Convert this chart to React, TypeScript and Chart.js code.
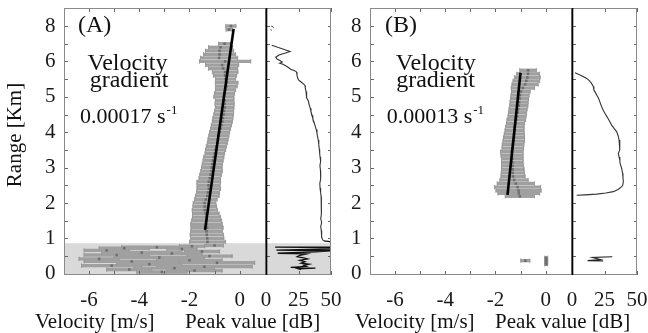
import { useEffect, useRef } from "react";
import { Chart, registerables } from "chart.js";

Chart.register(...registerables);

const FONT = "'Liberation Serif', 'Times New Roman', serif";
const W = 648;
const H = 333;

// axes
const Y_MIN = -0.035;
const Y_MAX = 7.51;
const VEL_MIN = -7;
const VEL_MAX = 1.05;
const DB_MIN = 0;
const DB_MAX = 50;

const yTickValues = [0, 1, 2, 3, 4, 5, 6, 7];
const yTickLabels = ["0", "1", "2", "3", "4", "5", "6", "8"];
const yMinorTicks = [0, 0.5, 1, 1.5, 2, 2.5, 3, 3.5, 4, 4.5, 5, 5.5, 6, 6.5, 7];
const velTickValues = [-6, -4, -2, 0];
const velMinorTicks = [-6, -5, -4, -3, -2, -1, 0];
const dbTickValues = [0, 25, 50];

// ---------- Panel A ----------
const rangeA = [
  0.05, 0.09, 0.12, 0.16, 0.2, 0.23, 0.27, 0.31, 0.35, 0.38, 0.42, 0.46, 0.5, 0.53, 0.57, 0.6, 0.63, 0.66,
  0.7, 0.72, 0.75, 0.78, 0.8,
  0.9, 1.0, 1.1, 1.2, 1.3, 1.4, 1.5, 1.6, 1.7, 1.8, 1.9, 2.0, 2.1, 2.2, 2.3, 2.4, 2.5, 2.6, 2.7, 2.8, 2.9,
  3.0, 3.1, 3.2, 3.3, 3.4, 3.5, 3.6, 3.7, 3.8, 3.9, 4.0, 4.1, 4.2, 4.3, 4.4, 4.5, 4.6, 4.7, 4.8, 4.9,
  5.0, 5.1, 5.2, 5.3, 5.4, 5.5, 5.6, 5.7, 5.8, 5.9, 6.0, 6.1, 6.2, 6.3, 6.4, 6.5, 6.9, 7.0,
];
const velA = [
  -3.1, -1.8, -4.4, -2.6, -1.4, -5.1, -3.6, -0.9, -4.3, -2.0, -5.6, -3.2, -1.2, -4.9, -2.7, -3.9, -1.5, -5.3,
  -2.3, -4.6, -3.3, -1.9, -1.0,
  -1.28, -1.29, -1.31, -1.32, -1.3, -1.32, -1.32, -1.32, -1.35, -1.39, -1.39, -1.4, -1.35, -1.29, -1.26,
  -1.23, -1.24, -1.23, -1.19, -1.16, -1.12,
  -1.11, -1.09, -1.06, -1.03, -0.99, -0.96, -0.93, -0.89, -0.86, -0.83, -0.8, -0.76, -0.73, -0.69, -0.67,
  -0.64, -0.62, -0.6, -0.6, -0.6,
  -0.63, -0.6, -0.56, -0.53, -0.52, -0.56, -0.58, -0.58, -0.66, -0.7, -0.58, -0.82, -0.8, -0.8, -0.76,
  -0.6, -0.42, -0.35,
];
const errA = [
  1.0, 1.1, 0.9, 1.6, 1.9, 1.2, 1.3, 1.5, 1.9, 1.3, 0.8, 1.8, 0.9, 1.3, 1.2, 1.6, 0.7, 0.9,
  0.6, 1.0, 1.4, 0.5, 0.35,
  0.72, 0.66, 0.66, 0.63, 0.64, 0.63, 0.6, 0.56, 0.53, 0.5, 0.47, 0.45, 0.45, 0.47, 0.46,
  0.47, 0.46, 0.47, 0.43, 0.43, 0.43,
  0.41, 0.4, 0.4, 0.4, 0.39, 0.4, 0.4, 0.4, 0.4, 0.4, 0.4, 0.4, 0.4, 0.4, 0.4,
  0.39, 0.38, 0.37, 0.38, 0.37,
  0.4, 0.4, 0.4, 0.43, 0.45, 0.4, 0.46, 0.51, 0.58, 0.66, 1.02, 0.74, 0.64, 0.56, 0.48,
  0.24, 0.12, 0.2,
];
const fitVelA = [-1.38, -0.24];
const fitRangeA = [1.24, 6.92];
const shadeTopA = 0.86;

const peakRangeA = [
  6.46, 6.4, 6.34, 6.28, 6.24, 6.18, 6.12, 6.07, 6.02, 5.98, 5.95, 5.92, 5.87, 5.82, 5.78, 5.74, 5.7,
  5.62, 5.55, 5.48, 5.42, 5.36, 5.32, 5.25, 5.15, 5.05, 4.97, 4.88, 4.78, 4.68, 4.58, 4.48, 4.38, 4.28,
  4.18, 4.08, 3.98, 3.88, 3.78, 3.65, 3.52, 3.4, 3.3, 3.18, 3.05, 2.92, 2.8, 2.68, 2.55, 2.42, 2.3,
  2.18, 2.05, 1.92, 1.8, 1.68, 1.56, 1.45, 1.33, 1.22, 1.12, 1.03, 0.96, 0.93,
];
const peakDbA = [
  4.4, 9, 14, 18.5, 15, 10, 7.5, 8.5, 11, 12.5, 10.5, 13, 15.5, 17.5, 19, 22, 23.5,
  23.8, 24.2, 25, 27, 29, 30, 30.2, 30.8, 31, 31.5, 32.6, 33.2, 34, 34.6, 35.4, 36, 37,
  37.8, 38.6, 39.2, 39.6, 40.2, 40.6, 41, 41.3, 41.6, 42, 41.5, 41.9, 42.3, 41.8, 41.4, 41.6, 42,
  42.4, 42.6, 42.4, 42.9, 42.5, 42.1, 42.8, 42.1, 42.5, 42.9, 42.7, 43.6, 44.5,
];
const peakLowRangeA = [
  0.93, 0.91, 0.88, 0.8, 0.76, 0.75, 0.74, 0.7, 0.67, 0.65, 0.62, 0.58, 0.56, 0.52, 0.48, 0.45, 0.42,
  0.38, 0.34, 0.3, 0.27, 0.24, 0.21, 0.18, 0.16, 0.14, 0.12,
];
const peakLowDbA = [
  44.5, 49, 50, 50, 50, 7, 50, 50, 8, 50, 38, 9, 31, 26, 24, 29, 32,
  26, 30, 27, 33, 29, 31, 19, 38, 25, 27,
];
const peakDashRangeA = [7.0, 6.96, NaN, 6.9, 6.88];
const peakDashDbA = [4, 6, NaN, 3.5, 4.5];

// ---------- Panel B ----------
const rangeB = [
  0.27, 0.33, 0.37, 0.39, 0.45,
  2.19, 2.27, 2.35, 2.45, 2.55, 2.65, 2.75, 2.85, 2.95, 3.05, 3.15, 3.25, 3.35, 3.45, 3.55, 3.65, 3.75,
  3.85, 3.95, 4.05, 4.15, 4.25, 4.35, 4.45, 4.55, 4.65, 4.75, 4.85, 4.95, 5.05, 5.15, 5.25, 5.35, 5.45,
  5.55, 5.65, 5.75,
];
const velB = [
  0.02, 0.02, -0.81, 0.02, 0.02,
  -1.03, -1.07, -1.08, -1.12, -1.19, -1.26, -1.3, -1.31, -1.31, -1.32, -1.33, -1.33, -1.34, -1.35, -1.31,
  -1.3, -1.27, -1.26, -1.25, -1.24, -1.23, -1.2, -1.17, -1.14, -1.12, -1.1, -1.07, -1.06, -1.04, -1.02,
  -0.99, -0.91, -0.82, -0.77, -0.73, -0.7, -0.7,
];
const errB = [
  0.06, 0.06, 0.18, 0.06, 0.06,
  0.58, 0.83, 0.9, 0.92, 0.74, 0.56, 0.48, 0.46, 0.45, 0.44, 0.43, 0.43, 0.44, 0.45, 0.43,
  0.43, 0.43, 0.42, 0.4, 0.38, 0.37, 0.36, 0.37, 0.36, 0.36, 0.36, 0.36, 0.36, 0.36, 0.36,
  0.37, 0.46, 0.52, 0.53, 0.51, 0.45, 0.33,
];
const fitVelB = [-1.52, -1.0];
const fitRangeB = [2.23, 5.68];

const peakRangeB = [
  5.68, 5.6, 5.52, 5.45, 5.38, 5.29, 5.2, 5.14, 5.05, 4.95, 4.85, 4.72, 4.62, 4.53, 4.42, 4.3, 4.2,
  4.1, 4.01, 3.9, 3.78, 3.65, 3.5, 3.4, 3.3, 3.2, 3.12, 2.98, 2.84, 2.72, 2.6, 2.5, 2.46, 2.38, 2.32,
  2.28, 2.25, 2.23, 2.22,
];
const peakDbB = [
  2.3, 7, 11.3, 13.5, 15, 16.4, 16.8, 17.7, 19, 20.5, 21.5, 22.8, 24, 25.4, 27.2, 29, 30.5,
  32.5, 34.4, 35.5, 36.2, 36.6, 36.9, 35.6, 36.2, 36.8, 37, 38.2, 38.9, 39.2, 39.5, 39, 38.2, 35.5, 31.8,
  26, 19, 10, 3.6,
];
const peakLowRangeB = [0.48, 0.46, 0.4, 0.37, 0.36];
const peakLowDbB = [31, 16, 22, 12, 24];

// ---------- helpers ----------
const tickFont = { family: FONT, size: 21 };

function pts(xs: number[], ys: number[]) {
  return xs.map((x, i) => ({ x: Number.isNaN(x) ? null : x, y: Number.isNaN(ys[i]) ? null : ys[i] }));
}

type Txt = { t: string; x: number; y: number; size: number; align?: CanvasTextAlign; sup?: string; rot?: boolean };

function framePlugin(kind: "vel" | "peak", texts: Txt[]) {
  return {
    id: "frame_" + kind,
    afterDraw(chart: any) {
      const { ctx, scales } = chart;
      const xs = scales.x;
      const ys = scales.y;
      const L = xs.left;
      const R = xs.right;
      const T = ys.top;
      const B = ys.bottom;
      ctx.save();
      ctx.lineWidth = 1;
      ctx.strokeStyle = "#666";
      ctx.beginPath();
      const xt = kind === "vel" ? velMinorTicks : dbTickValues;
      xt.forEach((v: number) => {
        const px = Math.round(xs.getPixelForValue(v)) + 0.5;
        ctx.moveTo(px, B);
        ctx.lineTo(px, B - 4);
        ctx.moveTo(px, T);
        ctx.lineTo(px, T + 4);
      });
      yMinorTicks.forEach((v) => {
        const py = Math.round(ys.getPixelForValue(v)) + 0.5;
        ctx.moveTo(L, py);
        ctx.lineTo(L + 4, py);
        if (kind === "peak") {
          ctx.moveTo(R, py);
          ctx.lineTo(R - 3, py);
        }
      });
      ctx.stroke();
      ctx.strokeStyle = "#8a8a8a";
      ctx.strokeRect(Math.round(L) + 0.5, Math.round(T) + 0.5, Math.round(R - L) - 1, Math.round(B - T) - 1);
      if (kind === "peak") {
        ctx.strokeStyle = "#000";
        ctx.lineWidth = 1.6;
        ctx.beginPath();
        ctx.moveTo(Math.round(L) + 0.5, T);
        ctx.lineTo(Math.round(L) + 0.5, B);
        ctx.stroke();
      }

      ctx.fillStyle = "#111";
      texts.forEach((tx) => {
        ctx.font = `${tx.size}px ${FONT}`;
        if (tx.rot) {
          ctx.save();
          ctx.translate(tx.x, tx.y);
          ctx.rotate(-Math.PI / 2);
          ctx.textAlign = "center";
          ctx.textBaseline = "middle";
          ctx.fillText(tx.t, 0, 0);
          ctx.restore();
          return;
        }
        ctx.textAlign = tx.align || "left";
        ctx.textBaseline = "alphabetic";
        ctx.fillText(tx.t, tx.x, tx.y);
        if (tx.sup) {
          const w = ctx.measureText(tx.t).width;
          ctx.font = `13px ${FONT}`;
          ctx.textAlign = "left";
          ctx.fillText(tx.sup, tx.x + w + 1, tx.y - 9);
        }
      });
      ctx.restore();
    },
  };
}

function yScale(showLabels: boolean, width: number, pad: number) {
  return {
    type: "linear",
    min: Y_MIN,
    max: Y_MAX,
    offset: false,
    display: true,
    grid: { display: false, drawTicks: false },
    border: { display: false },
    afterBuildTicks: (s: any) => {
      s.ticks = yTickValues.map((v) => ({ value: v }));
    },
    afterFit: (s: any) => {
      s.width = width;
      s.paddingTop = 0;
      s.paddingBottom = 0;
    },
    ticks: {
      display: showLabels,
      autoSkip: false,
      font: tickFont,
      color: "#1a1a1a",
      padding: pad,
      callback: (v: number) => yTickLabels[yTickValues.indexOf(v)] ?? "",
    },
  };
}

function xScale(min: number, max: number, tickVals: number[]) {
  return {
    type: "linear",
    min,
    max,
    offset: false,
    grid: { display: false, drawTicks: false },
    border: { display: false },
    afterBuildTicks: (s: any) => {
      s.ticks = tickVals.map((v) => ({ value: v }));
    },
    afterFit: (s: any) => {
      s.height = 58;
      s.paddingLeft = 0;
      s.paddingRight = 0;
    },
    ticks: {
      autoSkip: false,
      maxRotation: 0,
      font: tickFont,
      color: "#1a1a1a",
      padding: 13,
      callback: (v: number) => String(v),
    },
  };
}

function velConfig(
  range: number[],
  vel: number[],
  err: number[],
  fitV: number[],
  fitR: number[],
  shadeTop: number | null,
  padLeft: number,
  yWidth: number,
  right: number,
  texts: Txt[]
): any {
  const bars = range.map((r, i) => ({ y: r, x: [vel[i] - err[i], vel[i] + err[i]] }));
  const caps = range.flatMap((r, i) => [
    { x: vel[i] - err[i], y: r },
    { x: vel[i] + err[i], y: r },
  ]);
  const marks = range.map((r, i) => ({ x: vel[i], y: r }));
  const datasets: any[] = [
    { type: "line", data: pts(fitV, fitR), borderColor: "#000", borderWidth: 2.6, pointRadius: 0, order: 1 },
    {
      type: "scatter",
      data: marks,
      pointStyle: "rect",
      pointRadius: 1.8,
      backgroundColor: "#6e6e6e",
      borderWidth: 0,
      order: 2,
    },
    {
      type: "scatter",
      data: caps,
      pointStyle: "line",
      rotation: 90,
      pointRadius: 2.2,
      borderColor: "#999",
      borderWidth: 1,
      order: 3,
    },
    {
      type: "bar",
      indexAxis: "y",
      data: bars,
      backgroundColor: "#a0a0a0",
      barThickness: 2.7,
      grouped: false,
      order: 4,
    },
  ];
  if (shadeTop !== null) {
    datasets.push({
      type: "line",
      data: pts([VEL_MIN, VEL_MAX], [shadeTop, shadeTop]),
      borderWidth: 0,
      pointRadius: 0,
      fill: "start",
      backgroundColor: "#d9d9d9",
      order: 9,
    });
  }
  return {
    type: "bar",
    data: { datasets },
    options: {
      animation: false,
      responsive: false,
      devicePixelRatio: 1,
      layout: { padding: { left: padLeft, top: 8, right: W - right, bottom: 0 } },
      plugins: { legend: { display: false }, tooltip: { enabled: false } },
      scales: { x: xScale(VEL_MIN, VEL_MAX, velTickValues), y: yScale(true, yWidth, 8.5) },
    },
    plugins: [framePlugin("vel", texts)],
  };
}

function peakConfig(lines: { r: number[]; d: number[]; w: number; c: string }[], shadeTop: number | null, left: number): any {
  const datasets: any[] = lines.map((l, i) => ({
    type: "line",
    data: pts(l.d, l.r),
    borderColor: l.c,
    borderWidth: l.w,
    pointRadius: 0,
    spanGaps: false,
    order: 1 + i,
  }));
  if (shadeTop !== null) {
    datasets.push({
      type: "line",
      data: pts([DB_MIN, DB_MAX], [shadeTop, shadeTop]),
      borderWidth: 0,
      pointRadius: 0,
      fill: "start",
      backgroundColor: "#d9d9d9",
      order: 9,
    });
  }
  return {
    type: "line",
    data: { datasets },
    options: {
      animation: false,
      responsive: false,
      devicePixelRatio: 1,
      layout: { padding: { left, top: 8, right: W - (left + 65), bottom: 0 } },
      plugins: { legend: { display: false }, tooltip: { enabled: false } },
      scales: { x: xScale(DB_MIN, DB_MAX, dbTickValues), y: { ...yScale(false, 0, 0), display: false } },
    },
    plugins: [framePlugin("peak", [])],
  };
}

const textsA: Txt[] = [
  { t: "(A)", x: 78, y: 32, size: 24 },
  { t: "Velocity", x: 127.5, y: 70, size: 24, align: "center" },
  { t: "gradient", x: 129, y: 87, size: 24, align: "center" },
  { t: "0.00017 s", x: 80, y: 123, size: 22, sup: "-1" },
  { t: "Range [Km]", x: 15, y: 135, size: 21, rot: true },
  { t: "Velocity [m/s]", x: 35, y: 328, size: 21 },
  { t: "Peak value [dB]", x: 185, y: 328, size: 21 },
];
const textsB: Txt[] = [
  { t: "(B)", x: 385, y: 32, size: 24 },
  { t: "Velocity", x: 435.7, y: 70, size: 24, align: "center" },
  { t: "gradient", x: 435.5, y: 87, size: 24, align: "center" },
  { t: "0.00013 s", x: 386.7, y: 123, size: 22, sup: "-1" },
  { t: "Velocity [m/s]", x: 355, y: 328, size: 21 },
  { t: "Peak value [dB]", x: 495, y: 328, size: 21 },
];

function ChartCanvas({ make }: { make: () => any }) {
  const ref = useRef<HTMLCanvasElement | null>(null);
  useEffect(() => {
    if (!ref.current) return;
    const chart = new Chart(ref.current, make());
    return () => chart.destroy();
  }, []);
  return <canvas ref={ref} width={W} height={H} style={{ position: "absolute", left: 0, top: 0 }} />;
}

export default function App() {
  return (
    <div style={{ position: "absolute", left: 0, top: 0, width: W, height: H, background: "#fff", overflow: "hidden" }}>
      <ChartCanvas make={() => velConfig(rangeA, velA, errA, fitVelA, fitRangeA, shadeTopA, 0, 64, 266, textsA)} />
      <ChartCanvas
        make={() =>
          peakConfig(
            [
              { r: peakRangeA, d: peakDbA, w: 1.1, c: "#333" },
              { r: peakLowRangeA, d: peakLowDbA, w: 1.3, c: "#111" },
              { r: peakDashRangeA, d: peakDashDbA, w: 1, c: "#444" },
            ],
            shadeTopA,
            266
          )
        }
      />
      <ChartCanvas make={() => velConfig(rangeB, velB, errB, fitVelB, fitRangeB, null, 305, 65, 572, textsB)} />
      <ChartCanvas
        make={() =>
          peakConfig(
            [
              { r: peakRangeB, d: peakDbB, w: 1.1, c: "#333" },
              { r: peakLowRangeB, d: peakLowDbB, w: 1.2, c: "#222" },
            ],
            null,
            572
          )
        }
      />
    </div>
  );
}
